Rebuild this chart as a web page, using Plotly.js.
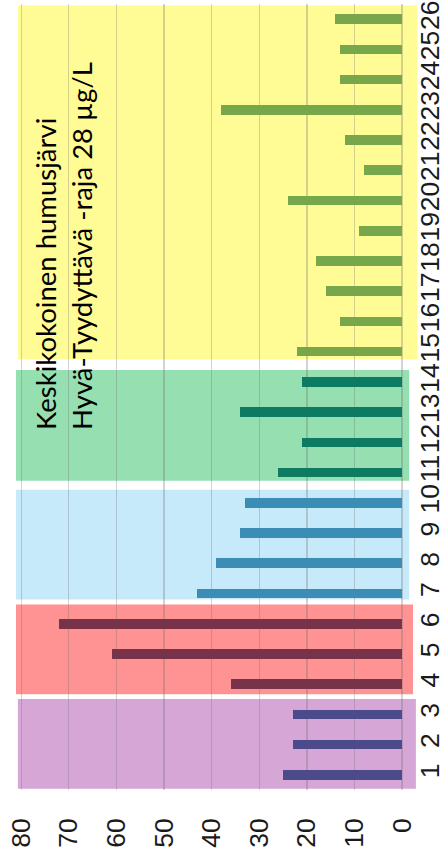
<!DOCTYPE html>
<html>
<head>
<meta charset="utf-8">
<script src="https://cdn.plot.ly/plotly-3.0.1.min.js"></script>
<style>html,body{margin:0;padding:0;background:#fff;}#chart{width:444px;height:859px;}</style>
</head>
<body>
<div id="chart"></div>
<script>
// Data (categories = lake/site numbers)
const categories = [1,2,3,4,5,6,7,8,9,10,11,12,13,14,15,16,17,18,19,20,21,22,23,24,25,26];
const values     = [25,23,23,36,61,72,43,39,34,33,26,21,34,21,22,13,16,18,9,24,8,12,38,13,13,14];
const groupOf    = [0,0,0,1,1,1,2,2,2,2,3,3,3,3,4,4,4,4,4,4,4,4,4,4,4,4];
const valueTicks = [0,10,20,30,40,50,60,70,80];
const annotationLines = ["Keskikokoinen humusjärvi", "Hyvä-Tyydyttävä -raja 28 µg/L"];

// Styles
const barColors = ["#4b4a8b", "#763349", "#3b8db5", "#0c7b62", "#78a64a"];
const bgColors  = ["#d6a6d6", "#ff9393", "#c6eafa", "#95dfb1", "#fffb95"];
// background band extents (category units / value units)
const bands = [
  {y0:0.54, y1:3.51, x0:80.7, x1:-2.9},
  {y0:3.67, y1:6.64, x0:81.1, x1:-2.3},
  {y0:6.80, y1:10.43, x0:81.1, x1:-1.5},
  {y0:10.73, y1:14.39, x0:81.1, x1:-1.5},
  {y0:14.75, y1:26.45, x0:80.7, x1:-3.2}
];

const traces = barColors.map((c, g) => {
  const ys = [], xs = [];
  categories.forEach((cat, i) => { if (groupOf[i] === g) { ys.push(cat); xs.push(values[i]); } });
  return {type:'bar', orientation:'h', x:xs, y:ys, width:0.32,
          marker:{color:c, line:{width:0}}, hoverinfo:'skip', showlegend:false};
});

const shapes = bands.map((b, g) => ({
  type:'rect', xref:'x', yref:'y', x0:b.x0, x1:b.x1, y0:b.y0, y1:b.y1,
  fillcolor:bgColors[g], line:{width:0}, layer:'below'
}));

const tickFont = {family:'"Liberation Sans", Arial, sans-serif', size:26.5, color:'#1a1a1a'};

const layout = {
  width:444, height:859,
  margin:{l:16, r:25, t:4, b:69},
  paper_bgcolor:'#ffffff', plot_bgcolor:'#ffffff',
  bargap:0,
  xaxis:{
    range:[81.1,-3.56], tickvals:valueTicks, ticktext:valueTicks.map(String),
    tickangle:-90, showgrid:true, gridcolor:'rgba(110,110,110,0.3)', gridwidth:1.3,
    zeroline:false, showline:false, ticks:'', ticklabelstandoff:22,
    ticklabeloverflow:'allow', tickfont:tickFont
  },
  yaxis:{
    range:[0.5,26.5], side:'right', tickvals:categories, ticktext:categories.map(String),
    tickangle:-90, showgrid:false, zeroline:false, showline:false, ticks:'',
    ticklabelstandoff:-8, ticklabeloverflow:'allow',
    tickfont:tickFont
  },
  shapes:shapes,
  annotations:[{
    xref:'x', yref:'y', x:71.0, y:18.5, xanchor:'center', yanchor:'middle',
    text:annotationLines.join('<br>'), align:'left', textangle:-90, showarrow:false,
    font:{family:'Lato, sans-serif', size:27.5, color:'#000'}
  }]
};

Plotly.newPlot('chart', traces, layout, {staticPlot:true, displayModeBar:false});
</script>
</body>
</html>
